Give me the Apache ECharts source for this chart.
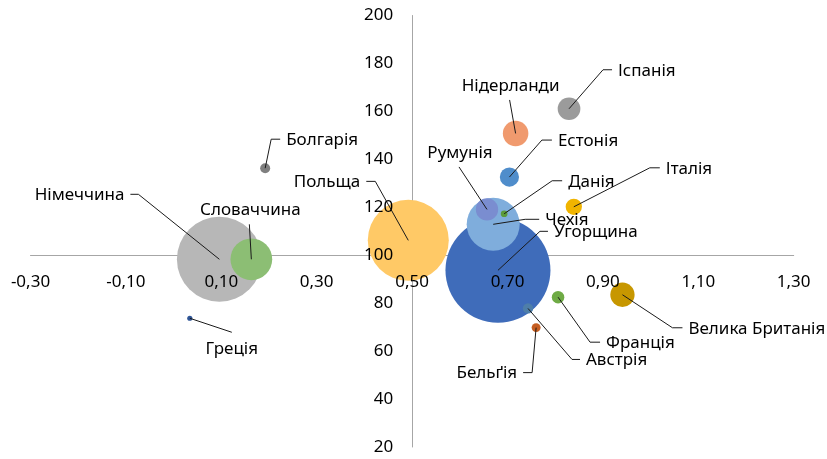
<!DOCTYPE html>
<html><head><meta charset="utf-8">
<script src="https://cdn.jsdelivr.net/npm/echarts@6/dist/echarts.min.js"></script>
<style>html,body{margin:0;padding:0;background:#fff}#c{width:827px;height:459px}</style>
</head><body><div id="c"></div>
<script>
// ---- data ----
const countries = ['Німеччина','Словаччина','Польща','Угорщина','Чехія','Румунія','Данія','Естонія','Нідерланди','Іспанія','Італія','Велика Британія','Франція','Австрія','Бельґія','Болгарія','Греція'];
const xValues = [0.096, 0.163, 0.492, 0.680, 0.670, 0.657, 0.693, 0.704, 0.717, 0.829, 0.839, 0.941, 0.806, 0.743, 0.760, 0.192, 0.034];
const yValues = [98.3, 98.3, 106.2, 93.7, 112.9, 119.1, 117.3, 132.6, 150.8, 161.1, 120.2, 83.5, 82.5, 77.8, 69.8, 136.3, 73.7];
const sizes   = [65.5, 15.8, 59.5, 100, 25.5, 4.5, 0.41, 3.34, 5.9, 4.67, 2.41, 5.36, 1.42, 0.96, 0.73, 0.91, 0.245];
const xTickMin = -0.3, xTickMax = 1.3;
const yTickMin = 20, yTickMax = 200, yTickStep = 20;

// ---- styles / layout ----
const colors = ['#B7B7B7','#8CBE74','#FFC966','#3F6CBA','#7FADDC','#7A8DD0','#5A9A3C','#4F8DCB','#F09A6E','#9B9B9B','#F0B400','#C79700','#6FAB45','#4E7EA9','#C55E22','#7F7F7F','#2F5597'];
// [side, anchorDx, anchorDy, stubLength]
const labelLayout = [
  ['l',-89,-65,8], ['t',-2,-35,0], ['l',-42,-59,9], ['r',50,-39,8], ['r',46,-5,14],
  ['t',-28,-42.5,0], ['r',58,-33,10], ['r',42.5,-37,10], ['t',-6,-33.5,0], ['r',43,-39,9],
  ['r',86,-39,10], ['r',60,33,10], ['r',42,45,10], ['r',52,51,8], ['l',-13,45,9],
  ['r',15,-29,9], ['b',42,14,0]
];
const FONT = '"Noto Sans", "DejaVu Sans", sans-serif';
const fmt = v => v.toFixed(2).replace('.', ',');

const grid = {left: 30.5, right: 33.3, top: 15.5, bottom: 12, outerBoundsMode: 'none', containLabel: false};
const xOffset = -191.8, yOffset = -381.6;
const xBase = {type:'value', min:xTickMin, max:xTickMax, interval:0.1, position:'bottom', offset:xOffset,
  splitLine:{show:false}, axisTick:{show:false}};
const yBase = {type:'value', min:yTickMin, max:yTickMax, interval:yTickStep, position:'left', offset:yOffset,
  splitLine:{show:false}, axisTick:{show:false}};

const option = {
  animation: false,
  grid: grid,
  xAxis: [
    Object.assign({}, xBase, {z:0, axisLine:{show:true, lineStyle:{color:'#A6A6A6', width:1}}, axisLabel:{show:false}}),
    Object.assign({}, xBase, {z:10, axisLine:{show:false}, axisLabel:{show:true, margin:18, color:'#000', fontSize:17, fontFamily:FONT,
      formatter: v => (Math.round(v*10) % 2 !== 0 ? fmt(v) : '')}})
  ],
  yAxis: [
    Object.assign({}, yBase, {z:0, axisLine:{show:true, lineStyle:{color:'#A6A6A6', width:1}}, axisLabel:{show:false}}),
    Object.assign({}, yBase, {z:10, axisLine:{show:false}, axisLabel:{show:true, margin:19, color:'#000', fontSize:17, fontFamily:FONT}})
  ],
  series: [
    {
      type:'scatter', xAxisIndex:0, yAxisIndex:0, z:2, silent:true,
      symbol:'circle',
      symbolSize: v => 10.5*Math.sqrt(v[2]),
      data: countries.map((c,i) => ({name:c, value:[xValues[i], yValues[i], sizes[i]], itemStyle:{color:colors[i], opacity:1}}))
    },
    {
      type:'custom', xAxisIndex:0, yAxisIndex:0, z:5, silent:true,
      data: countries.map((c,i) => [xValues[i], yValues[i]]),
      renderItem: function(params, api){
        const i = params.dataIndex;
        const p = api.coord([api.value(0), api.value(1)]);
        const L = labelLayout[i];
        const ax = p[0]+L[1], ay = p[1]+L[2];
        let pts, tx, ty, align='left', valign='middle';
        if (L[0]==='r'){ pts=[p,[ax-L[3],ay],[ax,ay]]; tx=ax+6; ty=ay+1; align='left'; }
        else if (L[0]==='l'){ pts=[p,[ax+L[3],ay],[ax,ay]]; tx=ax-6; ty=ay+1; align='right'; }
        else if (L[0]==='t'){ pts=[p,[ax,ay]]; tx=ax+1; ty=ay-14; align='center'; }
        else { pts=[p,[ax,ay]]; tx=ax; ty=ay+17; align='center'; }
        return {type:'group', children:[
          {type:'polyline', shape:{points:pts}, style:{stroke:'#1a1a1a', lineWidth:1, fill:null}},
          {type:'text', style:{text:countries[i], x:tx, y:ty, align:align, verticalAlign:valign, fontSize:17, fontFamily:FONT, fill:'#000'}}
        ]};
      }
    }
  ]
};
const chart = echarts.init(document.getElementById('c'), null, {renderer:'canvas'});
chart.setOption(option);
</script>
</body></html>
